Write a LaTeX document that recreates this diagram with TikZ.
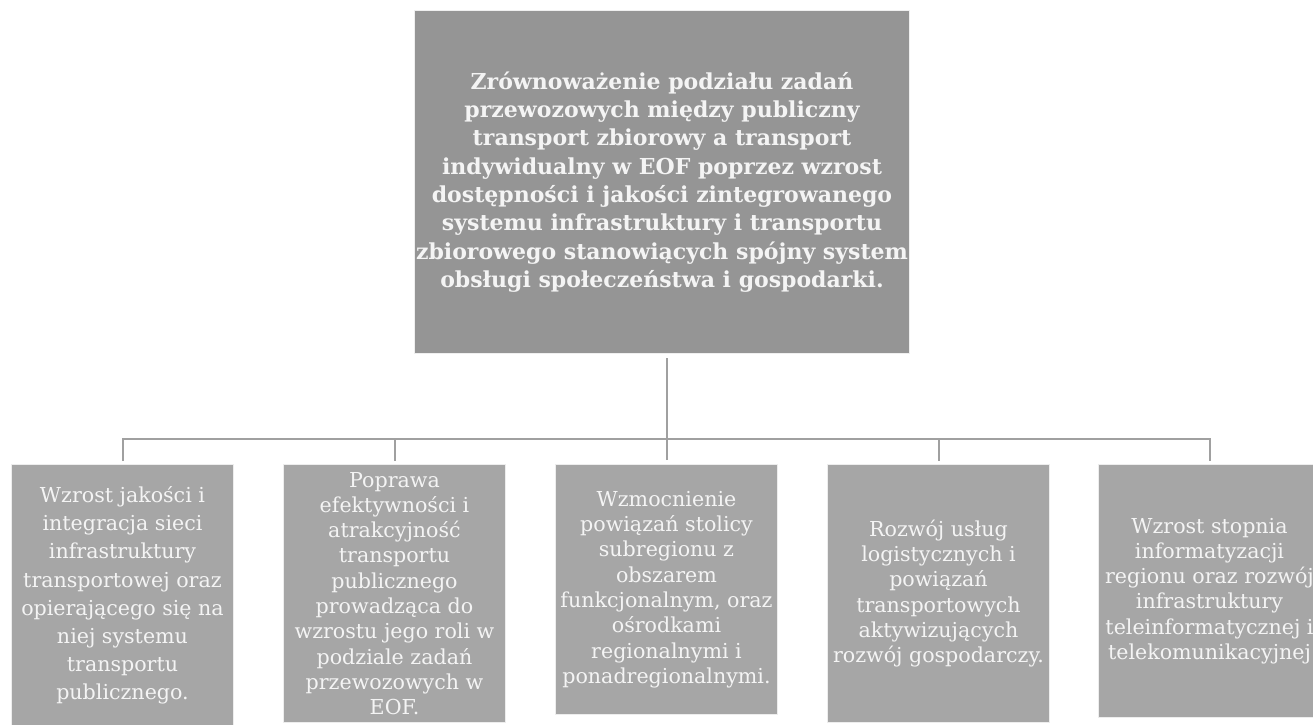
\documentclass[tikz,border=0pt]{standalone}
\usepackage{fontspec}
\setmainfont{DejaVu Serif}
\usetikzlibrary{calc,positioning}
\definecolor{goalgray}{HTML}{959595}
\definecolor{boxgray}{HTML}{A6A6A6}
\definecolor{linegray}{HTML}{A0A0A0}
\definecolor{txtwhite}{HTML}{F4F4F4}
\begin{document}
\begin{tikzpicture}[x=0.5pt,y=-0.5pt,
  goalbox/.style={fill=goalgray,draw=white!85!goalgray,line width=0.5pt,anchor=north west,inner sep=0pt,
    align=center,text=txtwhite,font=\fontsize{11}{14.15}\selectfont\bfseries,minimum width=247.5pt,minimum height=171.5pt},
  aimbox/.style={fill=boxgray,draw=white!80!boxgray,line width=0.5pt,anchor=north west,inner sep=0pt,
    align=center,text=txtwhite,font=\fontsize{10.3}{12.65}\selectfont,minimum width=111pt},
  conn/.style={draw=linegray,line width=1pt}]
\clip (0,0) rectangle (1313,724);
%\draw[step=50,help lines](0,0)grid(1313,724);
\node[goalbox] (goal) at (414,10) {Zrównoważenie podziału zadań\\przewozowych między publiczny\\transport zbiorowy a transport\\indywidualny w EOF poprzez wzrost\\dostępności i jakości zintegrowanego\\systemu infrastruktury i transportu\\zbiorowego stanowiących spójny system\\obsługi społeczeństwa i gospodarki.};
\node[aimbox,minimum height=131pt,font=\fontsize{10.3}{14.1}\selectfont] (c1) at (11,464) {Wzrost jakości i\\integracja sieci\\infrastruktury\\transportowej oraz\\opierającego się na\\niej systemu\\transportu\\publicznego.};
\node[aimbox,minimum height=129pt] (c2) at (283,464) {Poprawa\\efektywności i\\atrakcyjność\\transportu\\publicznego\\prowadząca do\\wzrostu jego roli w\\podziale zadań\\przewozowych w\\EOF.};
\node[aimbox,minimum height=125pt] (c3) at (555,464) {Wzmocnienie\\powiązań stolicy\\subregionu z\\obszarem\\funkcjonalnym, oraz\\ośrodkami\\regionalnymi i\\ponadregionalnymi.};
\node[aimbox,minimum height=129pt] (c4) at (827,464) {Rozwój usług\\logistycznych i\\powiązań\\transportowych\\aktywizujących\\rozwój gospodarczy.};
\node[aimbox,minimum height=126.5pt] (c5) at (1098,464) {Wzrost stopnia\\informatyzacji\\regionu oraz rozwój\\infrastruktury\\teleinformatycznej i\\telekomunikacyjnej};
\coordinate (bus) at (0,439);
\draw[conn,shorten <=2pt,shorten >=2pt] (c3.north) -- (c3.north |- goal.south);
\draw[conn,shorten <=1.5pt,shorten >=1.5pt] (c1.north) -- (c1.north |- bus) -| (c5.north);
\foreach \n in {c2,c4}
  \draw[conn,shorten <=1.5pt] (\n.north) -- (\n.north |- bus);
\end{tikzpicture}
\end{document}
